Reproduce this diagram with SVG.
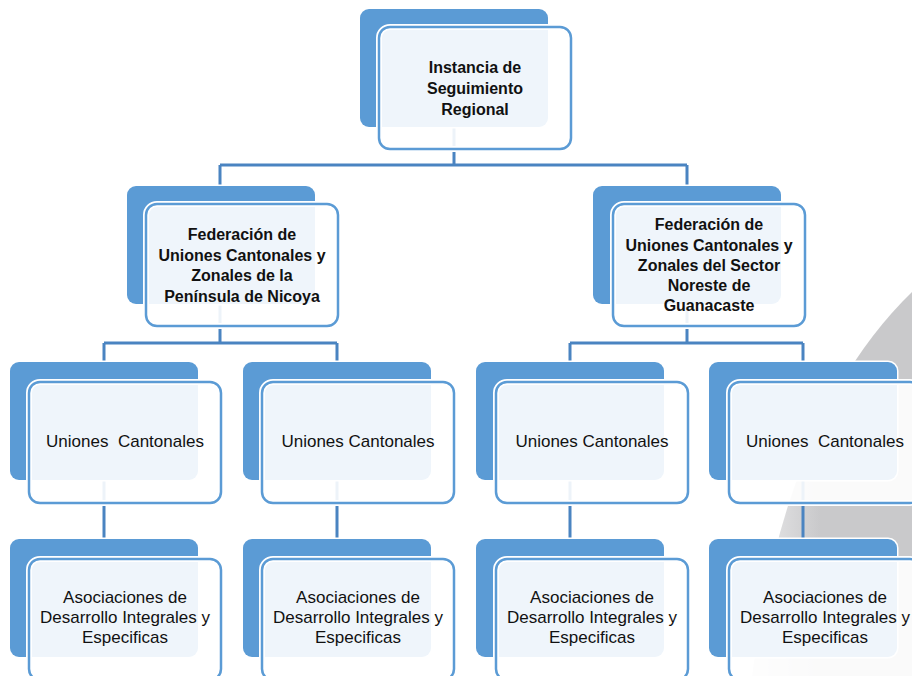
<svg xmlns="http://www.w3.org/2000/svg" width="912" height="676" viewBox="0 0 912 676">
<defs>
<linearGradient id="gr" x1="745" y1="0" x2="820" y2="0" gradientUnits="userSpaceOnUse">
<stop offset="0" stop-color="#EEEEEF"/>
<stop offset="1" stop-color="#C9C9CB"/>
</linearGradient>
<style>
.back{fill:#5B9BD5;stroke:#FFFFFF;stroke-width:3;paint-order:stroke}
.front{fill:#FFFFFF;fill-opacity:0.9;stroke:#5B9BD5;stroke-width:2.5}
.halo{fill:none;stroke:#FFFFFF;stroke-width:6}
.con{fill:none;stroke:#4A84C1;stroke-width:3}
text{font-family:"Liberation Sans",Arial,sans-serif;fill:#111;text-anchor:middle}
.b{font-weight:bold;font-size:16px}
.n{font-size:17px}
</style>
</defs>
<rect width="912" height="676" fill="#FFFFFF"/>
<path d="M912 292 Q785 415 752 676 L912 676 Z" fill="url(#gr)"/>
<g id="connectors" class="con">
<path d="M454 127 V165 M220 165 H687 M220 165 V186 M687 165 V186"/>
<path d="M220 304 V343 M104 343 H337 M104 343 V362 M337 343 V362"/>
<path d="M687 304 V343 M570 343 H803 M570 343 V362 M803 343 V362"/>
<path d="M104 480 V539 M337 480 V539 M570 480 V539 M803 480 V539"/>
</g>
<g id="n-top">
<rect class="back" x="360" y="9" width="188" height="118" rx="9"/>
<rect class="halo" x="379" y="27" width="192" height="122" rx="11"/>
<rect class="front" x="379" y="27" width="192" height="122" rx="11"/>
<text class="b" x="475" y="73">Instancia de</text>
<text class="b" x="475" y="94">Seguimiento</text>
<text class="b" x="475" y="115">Regional</text>
</g>
<g id="n-fed-nicoya">
<rect class="back" x="127" y="186" width="188" height="118" rx="9"/>
<rect class="halo" x="146" y="204" width="192" height="122" rx="11"/>
<rect class="front" x="146" y="204" width="192" height="122" rx="11"/>
<text class="b" x="242" y="240">Federación de</text>
<text class="b" x="242" y="260.5">Uniones Cantonales y</text>
<text class="b" x="242" y="281">Zonales de la</text>
<text class="b" x="242" y="301.5">Península de Nicoya</text>
</g>
<g id="n-fed-guanacaste">
<rect class="back" x="593" y="186" width="188" height="118" rx="9"/>
<rect class="halo" x="613" y="204" width="192" height="122" rx="11"/>
<rect class="front" x="613" y="204" width="192" height="122" rx="11"/>
<text class="b" x="709" y="230">Federación de</text>
<text class="b" x="709" y="250.5">Uniones Cantonales y</text>
<text class="b" x="709" y="271">Zonales del Sector</text>
<text class="b" x="709" y="291">Noreste de</text>
<text class="b" x="709" y="311">Guanacaste</text>
</g>
<g id="n-uc1">
<rect class="back" x="10" y="362" width="188" height="118" rx="9"/>
<rect class="halo" x="29" y="382" width="192" height="121" rx="11"/>
<rect class="front" x="29" y="382" width="192" height="121" rx="11"/>
<text class="n" x="125" y="447">Uniones&#160; Cantonales</text>
</g>
<g id="n-uc2">
<rect class="back" x="243" y="362" width="188" height="118" rx="9"/>
<rect class="halo" x="262" y="382" width="192" height="121" rx="11"/>
<rect class="front" x="262" y="382" width="192" height="121" rx="11"/>
<text class="n" x="358" y="447">Uniones Cantonales</text>
</g>
<g id="n-uc3">
<rect class="back" x="476" y="362" width="188" height="118" rx="9"/>
<rect class="halo" x="496" y="382" width="192" height="121" rx="11"/>
<rect class="front" x="496" y="382" width="192" height="121" rx="11"/>
<text class="n" x="592" y="447">Uniones Cantonales</text>
</g>
<g id="n-uc4">
<rect class="back" x="709" y="362" width="188" height="118" rx="9"/>
<rect class="halo" x="729" y="382" width="192" height="121" rx="11"/>
<rect class="front" x="729" y="382" width="192" height="121" rx="11"/>
<text class="n" x="825" y="447">Uniones&#160; Cantonales</text>
</g>
<g id="n-ad1">
<rect class="back" x="10" y="539" width="188" height="118" rx="9"/>
<rect class="halo" x="29" y="559" width="192" height="121" rx="11"/>
<rect class="front" x="29" y="559" width="192" height="121" rx="11"/>
<text class="n" x="125" y="603">Asociaciones de</text>
<text class="n" x="125" y="623">Desarrollo Integrales y</text>
<text class="n" x="125" y="643">Especificas</text>
</g>
<g id="n-ad2">
<rect class="back" x="243" y="539" width="188" height="118" rx="9"/>
<rect class="halo" x="262" y="559" width="192" height="121" rx="11"/>
<rect class="front" x="262" y="559" width="192" height="121" rx="11"/>
<text class="n" x="358" y="603">Asociaciones de</text>
<text class="n" x="358" y="623">Desarrollo Integrales y</text>
<text class="n" x="358" y="643">Especificas</text>
</g>
<g id="n-ad3">
<rect class="back" x="476" y="539" width="188" height="118" rx="9"/>
<rect class="halo" x="496" y="559" width="192" height="121" rx="11"/>
<rect class="front" x="496" y="559" width="192" height="121" rx="11"/>
<text class="n" x="592" y="603">Asociaciones de</text>
<text class="n" x="592" y="623">Desarrollo Integrales y</text>
<text class="n" x="592" y="643">Especificas</text>
</g>
<g id="n-ad4">
<rect class="back" x="709" y="539" width="188" height="118" rx="9"/>
<rect class="halo" x="729" y="559" width="192" height="121" rx="11"/>
<rect class="front" x="729" y="559" width="192" height="121" rx="11"/>
<text class="n" x="825" y="603">Asociaciones de</text>
<text class="n" x="825" y="623">Desarrollo Integrales y</text>
<text class="n" x="825" y="643">Especificas</text>
</g>
</svg>
